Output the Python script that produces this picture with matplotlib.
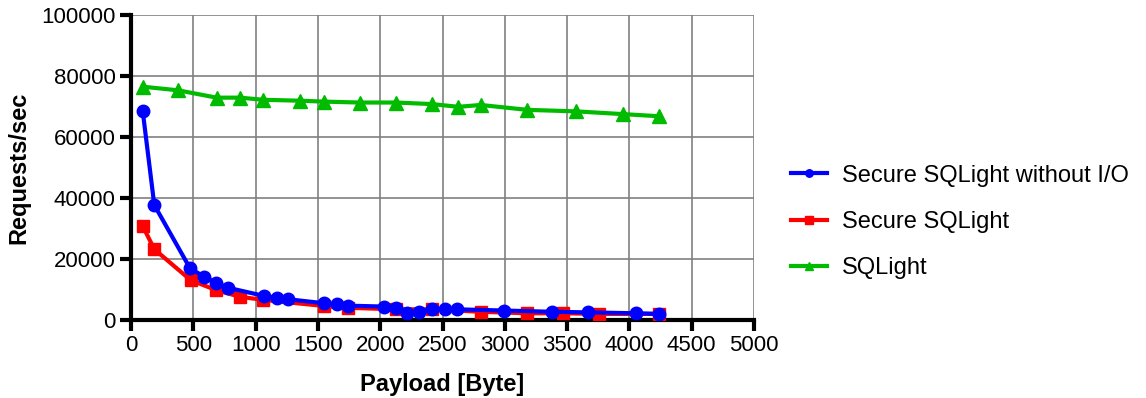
import numpy as np
import matplotlib.pyplot as plt

plt.rcParams['font.family'] = ['Liberation Sans', 'DejaVu Sans']

# Secure SQLight without I/O
x_noio = [94, 187, 473, 586, 682, 776, 1067, 1169, 1262, 1549, 1651, 1744,
          2033, 2127, 2218, 2314, 2413, 2520, 2619, 2994, 3376, 3670, 4053, 4240]
y_noio = [68500, 37700, 17000, 14200, 12200, 10600, 7900, 7300, 6800, 5500, 5100, 4700,
          4400, 4000, 2200, 2500, 3600, 3600, 3500, 3100, 2700, 2500, 2200, 2000]

# Secure SQLight
x_sec = [94, 187, 478, 682, 875, 1062, 1549, 1744, 2127, 2413, 2807, 3181, 3470, 3759, 4240]
y_sec = [30800, 23200, 13100, 9800, 7600, 6600, 4600, 4000, 3500, 3500, 2700, 2200, 2200, 2000, 2000]

# SQLight
x_sql = [94, 379, 687, 875, 1062, 1356, 1549, 1838, 2127, 2413, 2627, 2807, 3181, 3571, 3950, 4240]
y_sql = [76500, 75300, 72900, 72900, 72200, 71900, 71600, 71300, 71300, 70800, 69900, 70500,
         68900, 68400, 67500, 66800]

fig = plt.figure(figsize=(11.46, 3.98), dpi=100)
ax = fig.add_axes([131 / 1146, 78 / 398, 623 / 1146, 305 / 398])

ax.plot(x_noio, y_noio, color='#0000ff', lw=3, marker='o', ms=9,
        label='Secure SQLight without I/O', zorder=4)
ax.plot(x_sec, y_sec, color='#ff0000', lw=3, marker='s', ms=8.5,
        label='Secure SQLight', zorder=3)
ax.plot(x_sql, y_sql, color='#00bb00', lw=3, marker='^', ms=9.5,
        label='SQLight', zorder=3)

ax.set_xlim(0, 5000)
ax.set_ylim(0, 100000)
ax.set_xticks(np.arange(0, 5001, 500))
ax.set_yticks(np.arange(0, 100001, 20000))
ax.grid(True, color='#808080', lw=1.2)
ax.set_axisbelow(True)

for s in ['top', 'right']:
    ax.spines[s].set_visible(False)
for s in ['left', 'bottom']:
    ax.spines[s].set_linewidth(3)
ax.tick_params(width=3, length=8, labelsize=16, direction='out', pad=3)

ax.set_xlabel('Payload [Byte]', fontsize=17, fontweight='bold', labelpad=12)
ax.set_ylabel('Requests/sec', fontsize=17, fontweight='bold', labelpad=8)

fig.legend(loc='center left', bbox_to_anchor=(770 / 1146, 1 - 222 / 398),
           frameon=False, fontsize=17, handlelength=1.5, markerscale=0.6,
           labelspacing=1.03, handletextpad=0.65)

fig.savefig('out.png', dpi=100)
